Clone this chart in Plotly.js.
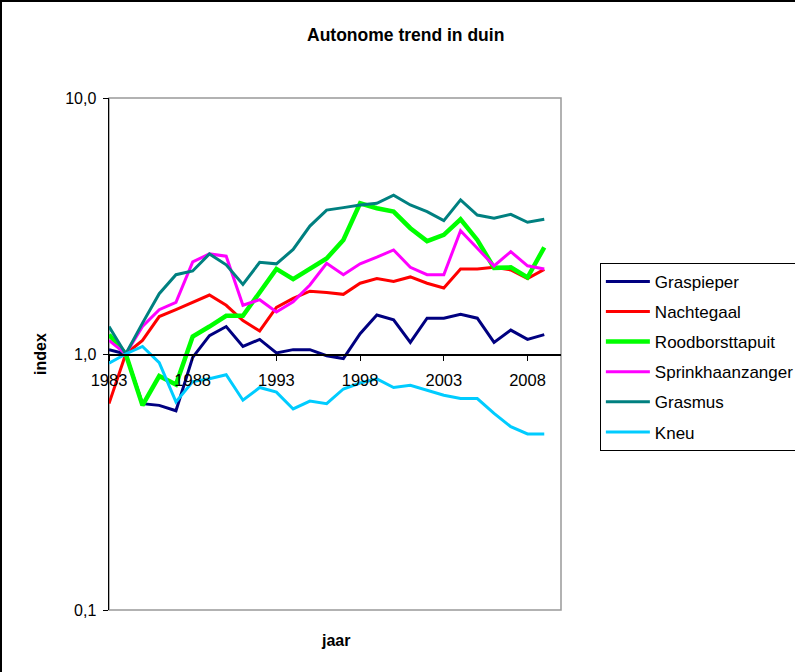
<!DOCTYPE html>
<html>
<head>
<meta charset="utf-8">
<script src="https://cdn.plot.ly/plotly-3.0.1.min.js"></script>
<style>
html, body { margin: 0; padding: 0; background: #fff; }
#wrap { position: absolute; left: 0; top: 0; width: 795px; height: 672px; box-sizing: border-box; border-left: 2px solid #000; border-top: 2px solid #000; overflow: hidden; }
#chart { width: 830px; height: 670px; }
</style>
</head>
<body>
<div id="wrap"><div id="chart"></div></div>
<script>
const years = [1983,1984,1985,1986,1987,1988,1989,1990,1991,1992,1993,1994,1995,1996,1997,1998,1999,2000,2001,2002,2003,2004,2005,2006,2007,2008,2009];

const graspieper = [1.04,1.00,0.64,0.63,0.60,0.97,1.18,1.28,1.07,1.14,1.01,1.04,1.04,0.985,0.96,1.20,1.42,1.36,1.11,1.38,1.38,1.43,1.38,1.11,1.24,1.14,1.19];
const nachtegaal = [0.64,1.00,1.13,1.40,1.49,1.59,1.70,1.55,1.35,1.23,1.52,1.65,1.76,1.74,1.71,1.89,1.97,1.92,2.00,1.89,1.81,2.15,2.15,2.18,2.13,1.97,2.14];
const roodborsttapuit = [1.19,1.00,0.63,0.82,0.76,1.17,1.28,1.41,1.41,1.73,2.15,1.96,2.16,2.36,2.79,3.88,3.71,3.60,3.10,2.76,2.92,3.36,2.79,2.17,2.18,1.99,2.61];
const sprinkhaanzanger = [1.13,1.00,1.28,1.49,1.59,2.29,2.46,2.41,1.55,1.63,1.46,1.60,1.86,2.26,2.04,2.25,2.39,2.55,2.18,2.04,2.04,3.03,2.59,2.21,2.51,2.21,2.15];
const grasmus = [1.28,1.00,1.32,1.72,2.04,2.11,2.46,2.23,1.87,2.28,2.25,2.56,3.16,3.65,3.73,3.82,3.88,4.17,3.82,3.60,3.32,4.00,3.49,3.39,3.51,3.27,3.36];
const kneu = [0.92,1.00,1.07,0.925,0.65,0.78,0.80,0.83,0.66,0.74,0.71,0.61,0.655,0.64,0.73,0.77,0.80,0.74,0.755,0.72,0.69,0.67,0.67,0.586,0.52,0.487,0.487];

const seriesNames = ["Graspieper","Nachtegaal","Roodborsttapuit","Sprinkhaanzanger","Grasmus","Kneu"];
const seriesValues = [graspieper, nachtegaal, roodborsttapuit, sprinkhaanzanger, grasmus, kneu];
const seriesColors = ["#000080","#FF0000","#00FF00","#FF00FF","#008080","#00CCFF"];
const seriesWidths = [3, 3, 4.5, 3, 3, 3];

const xTickVals = [1983,1988,1993,1998,2003,2008];
const xTickText = ["1983","1988","1993","1998","2003","2008"];
const yTickVals = [0.1, 1, 10];
const yTickText = ["0,1","1,0","10,0"];

const FONT = "Liberation Sans, Arial, sans-serif";

const traces = seriesNames.map((n, i) => ({
  type: "scatter",
  mode: "lines",
  name: n,
  x: years,
  y: seriesValues[i],
  legendgroup: "g" + i,
  line: { color: seriesColors[i], width: seriesWidths[i] }
}));

const W = 830;
const layout = {
  width: W,
  height: 670,
  margin: { l: 107, r: W - 107 - 452, t: 96, b: 62 },
  paper_bgcolor: "#fff",
  plot_bgcolor: "#fff",
  font: { family: FONT, color: "#000", size: 16 },
  showlegend: true,
  legend: {
    x: 1.086, y: 0.678, xanchor: "left", yanchor: "top",
    bordercolor: "#000", borderwidth: 1, bgcolor: "#fff",
    font: { family: FONT, size: 17, color: "#000" },
    itemwidth: 44,
    traceorder: "grouped", tracegroupgap: 5
  },
  xaxis: {
    range: [1983, 2010],
    anchor: "free", position: 0.5,
    showgrid: false, zeroline: false,
    showline: true, linecolor: "#000", linewidth: 1.5,
    ticks: "outside", ticklen: 5, tickcolor: "#000", tickwidth: 1,
    ticklabelstandoff: 6,
    tickvals: xTickVals, ticktext: xTickText,
    tickfont: { family: FONT, size: 16.5, color: "#000" }
  },
  yaxis: {
    type: "log",
    range: [-1, 1],
    showgrid: false, zeroline: false,
    showline: true, linecolor: "#000", linewidth: 1.5,
    ticks: "outside", ticklen: 5, tickcolor: "#000",
    ticklabelstandoff: 3,
    tickvals: yTickVals, ticktext: yTickText,
    tickfont: { family: FONT, size: 16, color: "#000" }
  },
  shapes: [
    { type: "rect", xref: "paper", yref: "paper", x0: 0, x1: 1, y0: 0, y1: 1,
      line: { color: "#999", width: 1.5 }, layer: "below" }
  ],
  annotations: [
    { text: "<b>Autonome trend in duin</b>", xref: "paper", yref: "paper",
      x: (405 - 109) / 452, y: (610 - 35) / 512, xanchor: "center", yanchor: "middle",
      showarrow: false, font: { family: FONT, size: 17.5, color: "#000" } },
    { text: "<b>jaar</b>", xref: "paper", yref: "paper",
      x: (335 - 109) / 452, y: (610 - 640) / 512, xanchor: "center", yanchor: "middle",
      showarrow: false, font: { family: FONT, size: 16, color: "#000" } },
    { text: "<b>index</b>", xref: "paper", yref: "paper",
      x: (40 - 109) / 452, y: 0.5, xanchor: "center", yanchor: "middle", textangle: -90,
      showarrow: false, font: { family: FONT, size: 16, color: "#000" } }
  ]
};

Plotly.newPlot("chart", traces, layout, { displayModeBar: false, staticPlot: true });
</script>
</body>
</html>
